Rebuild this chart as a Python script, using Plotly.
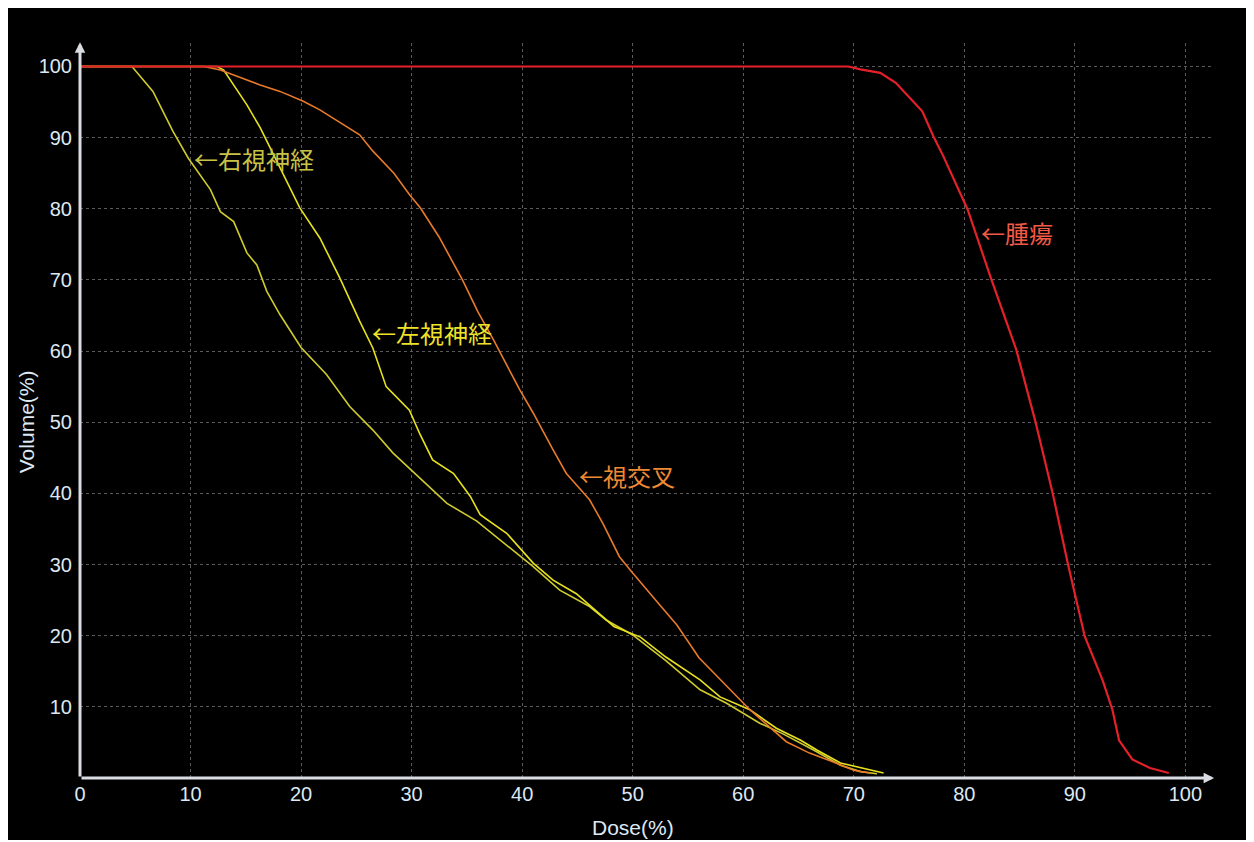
import plotly.graph_objects as go

# ---- data (Dose %, Volume %) ----
tumor_dose = [0, 69.5, 70.6, 72.4, 73.8, 75.4, 76.2, 77.2, 78.1, 80.3, 82.4, 84.7, 86.4, 88.0,
              89.4, 90.9, 92.5, 93.4, 94.0, 95.2, 96.8, 98.5]
tumor_vol = [100, 100, 99.6, 99.1, 97.7, 95.0, 93.7, 90.2, 87.4, 79.9, 70.3, 60.2, 50.3, 40.0,
             29.9, 19.9, 13.8, 9.6, 5.3, 2.6, 1.4, 0.7]

chiasm_dose = [0, 11.2, 12.7, 14.2, 16.3, 18.1, 20.2, 21.7, 24.1, 25.3, 26.5, 28.4, 29.8, 30.8,
               32.5, 34.6, 36.0, 37.4, 39.8, 41.0, 42.8, 44.0, 46.1, 47.3, 48.8, 50.0, 52.3,
               54.0, 56.0, 58.5, 60.6, 63.9, 66.0, 68.1, 70.0, 71.5]
chiasm_vol = [100, 100, 99.5, 98.6, 97.4, 96.5, 95.1, 93.9, 91.6, 90.4, 88.1, 85.0, 82.0, 80.1,
              76.0, 70.0, 65.5, 61.6, 54.5, 51.3, 46.1, 42.8, 39.1, 35.8, 31.1, 28.8, 24.6,
              21.5, 16.9, 13.0, 9.6, 5.1, 3.5, 2.3, 1.1, 0.7]

left_dose = [0, 12.4, 13.0, 15.1, 16.3, 17.5, 19.9, 21.7, 23.5, 25.3, 26.5, 27.7, 29.8, 30.7,
             31.9, 33.8, 35.3, 36.2, 38.6, 41.0, 42.8, 44.9, 47.0, 48.3, 50.7, 53.0, 56.1,
             57.9, 60.6, 63.0, 65.2, 66.7, 68.8, 71.2, 72.7]
left_vol = [100, 100, 99.5, 94.6, 91.4, 87.6, 80.1, 75.9, 70.3, 64.2, 60.4, 55.0, 51.7, 48.5,
            44.7, 42.8, 39.6, 37.0, 34.4, 30.2, 27.8, 25.9, 23.1, 21.3, 19.8, 17.0, 13.8,
            11.4, 9.6, 7.0, 5.3, 3.9, 2.1, 1.3, 0.7]

right_dose = [0, 4.7, 6.6, 8.4, 9.8, 11.8, 12.7, 13.9, 15.1, 16.0, 16.9, 18.1, 20.0, 22.3,
              24.4, 26.5, 28.3, 31.3, 33.2, 35.9, 38.0, 41.0, 43.4, 46.1, 47.6, 50.0, 53.0,
              56.1, 58.5, 61.5, 63.6, 66.4, 68.8, 70.6, 72.1]
right_vol = [100, 100, 96.5, 90.9, 87.1, 82.7, 79.6, 78.2, 73.8, 72.1, 68.4, 65.1, 60.5, 56.7,
             52.2, 48.9, 45.7, 41.4, 38.6, 36.1, 33.5, 29.7, 26.4, 24.1, 22.2, 20.1, 16.5,
             12.4, 10.5, 7.7, 6.2, 3.9, 1.8, 0.9, 0.6]

x_ticks = [0, 10, 20, 30, 40, 50, 60, 70, 80, 90, 100]
y_ticks = [10, 20, 30, 40, 50, 60, 70, 80, 90, 100]

labels = [
    ("←右視神経", 10.1, 87.1, "#c9c247"),
    ("←左視神経", 26.2, 62.6, "#eee22a"),
    ("←視交叉", 45.0, 42.5, "#f08a32"),
    ("←腫瘍", 81.3, 76.7, "#f05a46"),
]

TICK_COLOR = "#dde8f4"
AXIS_COLOR = "#d9dde3"

fig = go.Figure()
fig.add_trace(go.Scatter(x=right_dose, y=right_vol, mode="lines",
                         line=dict(color="#cfcb2e", width=1.6), name="右視神経"))
fig.add_trace(go.Scatter(x=left_dose, y=left_vol, mode="lines",
                         line=dict(color="#e8e21e", width=1.6), name="左視神経"))
fig.add_trace(go.Scatter(x=chiasm_dose, y=chiasm_vol, mode="lines",
                         line=dict(color="#e87a2a", width=1.6), name="視交叉"))
fig.add_trace(go.Scatter(x=tumor_dose, y=tumor_vol, mode="lines",
                         line=dict(color="#e5202a", width=2.2), name="腫瘍"))

annotations = []
for text, x, y, c in labels:
    annotations.append(dict(text=text, x=x, y=y, xref="x", yref="y", xanchor="left",
                            yanchor="middle", showarrow=False,
                            font=dict(family="Noto Sans CJK JP", size=24, color=c)))

# axis arrows
annotations.append(dict(x=102.6, y=0, ax=0, ay=0, xref="x", yref="y", axref="x", ayref="y",
                        text="", showarrow=True, arrowhead=2, arrowsize=0.7, arrowwidth=3,
                        arrowcolor=AXIS_COLOR))
annotations.append(dict(x=0, y=103.4, ax=0, ay=0, xref="x", yref="y", axref="x", ayref="y",
                        text="", showarrow=True, arrowhead=2, arrowsize=0.7, arrowwidth=3,
                        arrowcolor=AXIS_COLOR))
# axis titles
annotations.append(dict(text="Dose(%)", x=50, y=0, xref="x", yref="paper", yshift=-49,
                        showarrow=False, xanchor="center", yanchor="middle",
                        font=dict(family="Liberation Sans", size=21, color=TICK_COLOR)))
annotations.append(dict(text="Volume(%)", x=0, y=50, xref="paper", yref="y", xshift=-54,
                        textangle=-90, showarrow=False, xanchor="center", yanchor="middle",
                        font=dict(family="Liberation Sans", size=21, color=TICK_COLOR)))

fig.update_layout(
    width=1242, height=832,
    margin=dict(l=72, r=37, t=35, b=62),
    paper_bgcolor="black",
    plot_bgcolor="black",
    showlegend=False,
    annotations=annotations,
    xaxis=dict(range=[0, 102.5], tickvals=x_ticks, ticktext=[str(v) for v in x_ticks],
               showgrid=True, gridcolor="#5a5a5a", griddash="dot", gridwidth=1,
               zeroline=False, showline=False, ticks="", ticklabelstandoff=2,
               tickfont=dict(family="Liberation Sans", size=20, color=TICK_COLOR)),
    yaxis=dict(range=[0, 103.3], tickvals=y_ticks, ticktext=[str(v) for v in y_ticks],
               showgrid=True, gridcolor="#5a5a5a", griddash="dot", gridwidth=1,
               zeroline=False, showline=False, ticks="", ticklabelstandoff=7,
               tickfont=dict(family="Liberation Sans", size=20, color=TICK_COLOR)),
)

fig.write_html("out.html")
